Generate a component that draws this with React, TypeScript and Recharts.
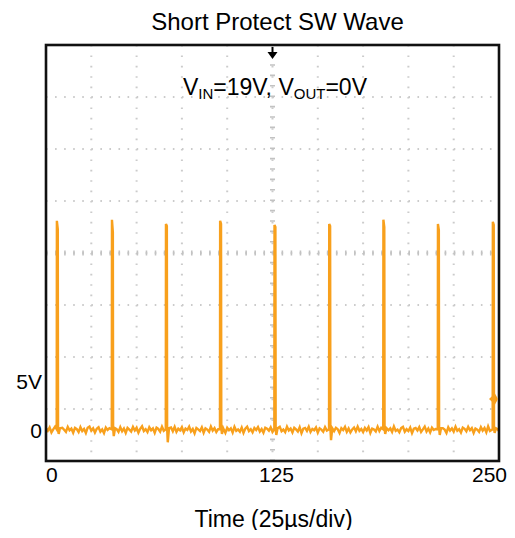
import React from 'react';
import {
  LineChart,
  Line,
  XAxis,
  YAxis,
  CartesianGrid,
  ReferenceLine,
  ReferenceDot,
} from 'recharts';

// ---- data ----
const TIME_TICKS = [0, 25, 50, 75, 100, 125, 150, 175, 200, 225, 250];
const TIME_LABELS: Record<number, string> = { 0: '0', 125: '125', 250: '250' };
const VOLT_TICKS = [0, 5];
const VOLT_LABELS: Record<number, string> = { 0: '0', 5: '5V' };
const GRID_VOLTS = [2, 7, 12, 22, 27, 32];
const CENTER_VOLT = 17;
const CENTER_TIME = 125;
const VOLT_DOMAIN: [number, number] = [-3, 37];
const TIME_DOMAIN: [number, number] = [0, 250];

const BASELINE_STEP_US = 1;
const BASELINE_NOISE = [
  0.15, -0.1, 0.22, -0.25, 0.05, 0.3, -0.15, 0.1, -0.3, 0.2, 0.0, -0.2, 0.28, -0.05, 0.12, -0.28, 0.18, 0.06, -0.22, 0.25, -0.12, 0.08, -0.3, 0.2, 0.32,
  -0.08, 0.14, -0.26, 0.1, 0.24, -0.18, 0.04, -0.32, 0.22, -0.02, 0.16, -0.24, 0.3, -0.1, 0.06, -0.2, 0.26, -0.14, 0.12, -0.3, 0.18, 0.02, -0.16, 0.28, -0.06,
  0.2, -0.28, 0.1, 0.34, -0.12, 0.06, -0.22, 0.24, -0.04, 0.14, -0.3, 0.2, 0.08, -0.18, 0.3, -0.1, 0.16, -0.26, 0.04, 0.22, -0.14, 0.28, -0.2, 0.1, -0.06,
  0.26, -0.24, 0.12, -0.02, 0.3, -0.16, 0.08, -0.34, 0.18, 0.04, -0.12, 0.24, -0.28, 0.14, 0.02, -0.2, 0.32, -0.08, 0.16, -0.22, 0.06, 0.26, -0.14, 0.1, -0.3,
  0.2, -0.04, 0.14, -0.26, 0.28, -0.1, 0.04, -0.18, 0.22, -0.3, 0.12, 0.3, -0.12, 0.06, -0.24, 0.18, -0.02, 0.26, -0.16, 0.08, -0.28, 0.2, 0.1, -0.08, 0.24,
  -0.2, 0.06, -0.3, 0.16, 0.28, -0.14, 0.02, -0.22, 0.3, -0.06, 0.12, -0.26, 0.2, 0.04, -0.16, 0.24, -0.32, 0.1, 0.18, -0.1, 0.3, -0.2, 0.08, -0.04, 0.22,
  -0.28, 0.14, 0.02, -0.18, 0.26, -0.08, 0.32, -0.24, 0.1, -0.12, 0.2, 0.06, -0.3, 0.16, -0.02, 0.28, -0.2, 0.12, -0.26, 0.04, 0.22, -0.14, 0.3, -0.1, 0.08,
  -0.22, 0.18, -0.06, 0.26, -0.3, 0.12, 0.04, -0.16, 0.3, -0.12, 0.2, -0.28, 0.08, 0.24, -0.04, 0.14, -0.2, 0.32, -0.1, 0.02, -0.24, 0.16, 0.28, -0.18, 0.06,
  -0.12, 0.22, -0.32, 0.1, 0.18, -0.06, 0.26, -0.2, 0.04, 0.3, -0.16, 0.12, -0.26, 0.2, -0.02, 0.08, -0.22, 0.28, -0.14, 0.16, 0.02, -0.3, 0.24, -0.08, 0.14,
  -0.18, 0.3, -0.1, 0.06, -0.26, 0.22, 0.1, -0.14, 0.28, -0.04, 0.16, -0.3, 0.12, 0.02, -0.2, 0.26, -0.08, 0.18, -0.24, 0.32, -0.12, 0.04, -0.18, 0.22, 0.08,
  -0.1,
];

const SPIKE_TIMES = [5.9, 36.3, 66.1, 96.0, 126.0, 156.2, 186.1, 216.2, 246.5];
const SPIKE_PEAKS = [20.1, 20.2, 19.8, 20.1, 19.7, 19.8, 20.2, 19.8, 20.0];
const SPIKE_SHOULDERS = [19.3, 19.0, 19.6, 19.8, 19.5, 19.6, 19.5, 19.2, 19.7];
const SPIKE_UNDERSHOOTS = [-0.4, -0.6, -1.2, -0.4, -0.5, -1.0, -0.4, -0.5, -0.3];

const TRIGGER_TIME = 125;
const CHANNEL_MARKER_V = 2.97;

// ---- table built from the arrays ----
type Pt = { t: number; v: number };
const buildTrace = (): Pt[] => {
  const pts: Pt[] = [];
  BASELINE_NOISE.forEach((n, i) => {
    const t = i * BASELINE_STEP_US;
    const inSpike = SPIKE_TIMES.some((ts) => t >= ts - 0.6 && t <= ts + 2.2);
    if (!inSpike) pts.push({ t, v: n });
  });
  SPIKE_TIMES.forEach((ts, i) => {
    pts.push({ t: ts, v: 0.05 });
    pts.push({ t: ts + 0.1, v: SPIKE_PEAKS[i] });
    pts.push({ t: ts + 0.6, v: SPIKE_SHOULDERS[i] });
    pts.push({ t: ts + 0.75, v: 0.1 });
    pts.push({ t: ts + 1.1, v: SPIKE_UNDERSHOOTS[i] });
    pts.push({ t: ts + 1.8, v: 0.15 });
  });
  return pts.sort((a, b) => a.t - b.t);
};
const TRACE = buildTrace();

const FONT = '"Liberation Sans", Arial, Helvetica, sans-serif';
const TRACE_COLOR = '#f8a01c';
const GRID_COLOR = '#cbcbcb';

const CHART_W = 507;
const CHART_H = 522;
const MARGIN = { top: 37, right: 16, bottom: 39, left: 0 };
const Y_AXIS_W = 38;
const X_AXIS_H = 30;

const XTick = (props: any) => {
  const { x, y, payload } = props;
  const label = TIME_LABELS[payload.value];
  if (!label) return null;
  let anchor: 'start' | 'middle' | 'end' = 'middle';
  let dx = 4;
  if (payload.value === 0) {
    anchor = 'start';
    dx = 0;
  } else if (payload.value === 250) {
    anchor = 'end';
    dx = 8;
  }
  return (
    <text x={x + dx} y={y + 21} textAnchor={anchor} fontSize={21} fontFamily={FONT} fill="#000">
      {label}
    </text>
  );
};

const YTick = (props: any) => {
  const { x, y, payload } = props;
  const label = VOLT_LABELS[payload.value];
  if (!label) return null;
  const dy = payload.value === 5 ? 11.6 : 8.5;
  return (
    <text x={x} y={y + dy} textAnchor="end" fontSize={21} fontFamily={FONT} fill="#000">
      {label}
    </text>
  );
};

const TriggerArrow = (p: any) => {
  const { cx, cy } = p;
  return (
    <g>
      <line x1={cx} y1={cy + 2} x2={cx} y2={cy + 8} stroke="#000" strokeWidth={2} />
      <polygon points={`${cx - 5},${cy + 7} ${cx + 5},${cy + 7} ${cx},${cy + 14}`} fill="#000" />
    </g>
  );
};

export default function App() {
  const plotLeft = MARGIN.left + Y_AXIS_W;
  const plotTop = MARGIN.top;
  const plotW = CHART_W - plotLeft - MARGIN.right;
  const plotH = CHART_H - MARGIN.top - MARGIN.bottom - X_AXIS_H;
  const markerY =
    plotTop + ((VOLT_DOMAIN[1] - CHANNEL_MARKER_V) / (VOLT_DOMAIN[1] - VOLT_DOMAIN[0])) * plotH;
  const markerX = plotLeft + plotW;
  return (
    <div style={{ position: 'relative', width: CHART_W, height: CHART_H, fontFamily: FONT, color: '#000' }}>
      <div
        style={{
          position: 'absolute',
          left: 269.5,
          top: 1.5,
          transform: 'translateX(-50%)',
          fontSize: 24,
          lineHeight: '24px',
          whiteSpace: 'nowrap',
        }}
      >
        Short Protect SW Wave
      </div>
      <LineChart width={CHART_W} height={CHART_H} data={TRACE} margin={MARGIN}>
        <CartesianGrid
          horizontal={false}
          stroke={GRID_COLOR}
          strokeWidth={2}
          strokeDasharray="1.6 8.8"
        />
        {GRID_VOLTS.map((v) => (
          <ReferenceLine
            key={v}
            y={v}
            stroke={GRID_COLOR}
            strokeWidth={2}
            strokeDasharray="1.6 7.46"
          />
        ))}
        <ReferenceLine y={CENTER_VOLT} stroke={GRID_COLOR} strokeWidth={2} strokeDasharray="1.6 7.46" />
        <ReferenceLine x={CENTER_TIME} stroke="#c2c2c2" strokeWidth={5} strokeDasharray="1.6 8.8" />
        <ReferenceLine y={CENTER_VOLT} stroke="#c2c2c2" strokeWidth={5} strokeDasharray="1.6 7.46" />
        <Line
          dataKey="v"
          type="linear"
          stroke={TRACE_COLOR}
          strokeWidth={2.4}
          dot={false}
          isAnimationActive={false}
        />
        <XAxis
          dataKey="t"
          type="number"
          domain={TIME_DOMAIN}
          ticks={TIME_TICKS}
          interval={0}
          axisLine={false}
          tickLine={false}
          tickSize={0}
          tickMargin={0}
          height={X_AXIS_H}
          tick={<XTick />}
        />
        <YAxis
          type="number"
          domain={VOLT_DOMAIN}
          ticks={VOLT_TICKS}
          interval={0}
          axisLine={false}
          tickLine={false}
          tickSize={0}
          tickMargin={4}
          width={Y_AXIS_W}
          tick={<YTick />}
        />
        <ReferenceDot x={TRIGGER_TIME} y={VOLT_DOMAIN[1]} ifOverflow="visible" shape={TriggerArrow} />
      </LineChart>
      <div
        style={{
          position: 'absolute',
          left: 267,
          top: 68,
          transform: 'translateX(-50%)',
          fontSize: 23,
          lineHeight: '23px',
          whiteSpace: 'nowrap',
        }}
      >
        V<sub style={{ fontSize: 15, verticalAlign: '-4px', lineHeight: 0 }}>IN</sub>=19V, V
        <sub style={{ fontSize: 15, verticalAlign: '-4px', lineHeight: 0 }}>OUT</sub>=0V
      </div>
      <div
        style={{
          position: 'absolute',
          left: 265.5,
          top: 500,
          transform: 'translateX(-50%)',
          fontSize: 23,
          lineHeight: '23px',
          whiteSpace: 'nowrap',
        }}
      >
        Time (25µs/div)
      </div>
      {/* plot frame + channel level marker, drawn over the chart */}
      <svg
        width={CHART_W}
        height={CHART_H}
        style={{ position: 'absolute', left: 0, top: 0, pointerEvents: 'none', overflow: 'visible' }}
      >
        <rect
          x={plotLeft}
          y={plotTop}
          width={plotW}
          height={plotH}
          fill="none"
          stroke="#111"
          strokeWidth={2.6}
        />
        <polygon
          points={`${markerX - 10},${markerY} ${markerX - 4},${markerY - 5.5} ${markerX - 1},${markerY} ${markerX - 4},${markerY + 5.5}`}
          fill={TRACE_COLOR}
        />
      </svg>
    </div>
  );
}
